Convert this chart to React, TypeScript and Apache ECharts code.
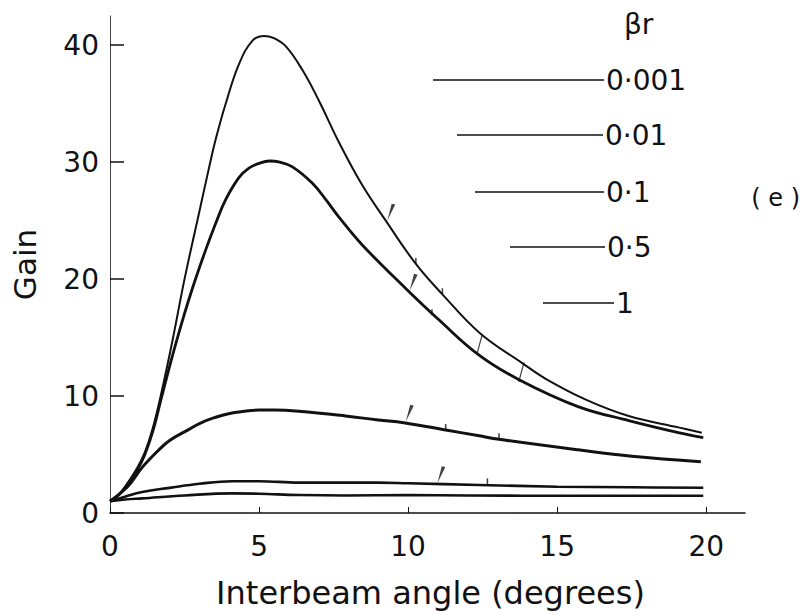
import React, { useEffect, useRef } from 'react';
import * as echarts from 'echarts';

// βr values for each curve (legend labels)
const betaR = ['0·001', '0·01', '0·1', '0·5', '1'];

// Gain vs interbeam angle (degrees)
const gain0001: [number, number][] = [
  [0, 1.0], [0.3, 1.6], [0.6, 2.6], [0.9, 3.8], [1.17, 5.2], [1.45, 7.4], [1.7, 10.0],
  [2.1, 14.8], [2.5, 20.0], [3.0, 25.8], [3.32, 29.5], [3.55, 32.0], [3.88, 35.0],
  [4.33, 38.4], [4.78, 40.4], [5.17, 40.8], [5.5, 40.6], [5.9, 39.9], [6.45, 37.9],
  [7.0, 35.3], [7.7, 31.6], [8.47, 28.0], [9.25, 25.0], [10.26, 21.3], [11.15, 18.7],
  [12.4, 15.4], [13.84, 12.8], [14.6, 11.5], [15.96, 9.7], [17.4, 8.3], [19.1, 7.3],
  [19.85, 6.86],
];
const gain001: [number, number][] = [
  [0, 1.0], [0.3, 1.55], [0.6, 2.5], [0.9, 3.6], [1.17, 5.0], [1.45, 7.1], [1.7, 9.6],
  [2.1, 13.5], [2.4, 16.2], [2.65, 18.3], [2.88, 20.1], [3.21, 22.5], [3.55, 24.8],
  [3.88, 26.8], [4.33, 28.7], [4.66, 29.5], [5.0, 29.9], [5.34, 30.1], [5.7, 30.0],
  [6.12, 29.6], [6.79, 28.2], [7.24, 26.8], [7.68, 25.3], [8.47, 22.9], [9.92, 19.2],
  [11.04, 16.5], [12.38, 13.5], [13.72, 11.4], [15.7, 9.1], [17.4, 7.9],
  [19.1, 6.85], [19.9, 6.45],
];
const gain01: [number, number][] = [
  [0, 1.0], [0.3, 1.6], [0.64, 2.4], [1.08, 3.9], [1.64, 5.4], [2.0, 6.2], [2.65, 7.15],
  [3.0, 7.65], [3.5, 8.15], [4.1, 8.55], [5.0, 8.8], [5.5, 8.8], [6.34, 8.7], [7.9, 8.3],
  [9.0, 7.95], [9.85, 7.72], [11.26, 7.1], [12.38, 6.6], [13.05, 6.3], [15.7, 5.4],
  [17.5, 4.85], [19.82, 4.38],
];
const gain05: [number, number][] = [
  [0, 1.0], [0.5, 1.4], [1.08, 1.8], [2.0, 2.15], [3.0, 2.5], [4.1, 2.72],
  [5.0, 2.72], [6.34, 2.6], [7.9, 2.6], [9.0, 2.6], [10, 2.54], [12.38, 2.4], [15, 2.25],
  [17.5, 2.2], [19.9, 2.16],
];
const gain1: [number, number][] = [
  [0, 1.0], [0.5, 1.15], [1.08, 1.25], [2.5, 1.5], [4.1, 1.68], [5.0, 1.65], [6.34, 1.54],
  [7.9, 1.5], [10, 1.54], [12, 1.5], [15.7, 1.47], [19.9, 1.47],
];

// hand-drawn marks on the curves
const boldSlashes: [number, number][] = [[9.3, 25.0], [10.05, 19.0], [9.92, 7.8], [10.98, 2.55]];
const smallTicks: [number, number][] = [[10.26, 21.3], [11.15, 18.7], [10.8, 16.9], [11.26, 7.1], [13.05, 6.3], [12.66, 2.45]];
const connectorTicks: [number, number][] = [[12.4, 14.45], [13.8, 12.05]];

const xTicks = [0, 5, 10, 15, 20];
const yTicks = [0, 10, 20, 30, 40];

const FONT = "'DejaVu Sans', sans-serif";
const INK = '#111';

export default function App() {
  const ref = useRef<HTMLDivElement>(null);
  useEffect(() => {
    if (!ref.current) return;
    const chart = echarts.init(ref.current, undefined, { renderer: 'svg' });
    const curves = [gain0001, gain001, gain01, gain05, gain1];
    const widths = [2, 2.8, 3, 2.6, 2.6];

    const legendRows = [
      { x1: 433, x2: 604, y: 80 },
      { x1: 457, x2: 603, y: 135 },
      { x1: 475, x2: 604, y: 192 },
      { x1: 510, x2: 605, y: 247 },
      { x1: 543, x2: 614, y: 303 },
    ];
    const graphics: any[] = [
      { type: 'text', left: 624, top: 10, style: { text: 'βr', font: `28px ${FONT}`, fill: INK } },
      { type: 'text', right: 6, top: 186, style: { text: '( e )', font: `24px ${FONT}`, fill: INK } },
    ];
    legendRows.forEach((r, i) => {
      graphics.push({
        type: 'line',
        shape: { x1: r.x1, y1: r.y, x2: r.x2, y2: r.y },
        style: { stroke: INK, lineWidth: 1.5 },
      });
      graphics.push({
        type: 'text',
        x: r.x2 + 2,
        y: r.y,
        style: { text: betaR[i], font: `28px ${FONT}`, fill: INK, verticalAlign: 'middle', align: 'left' },
      });
    });

    chart.setOption({
      animation: false,
      backgroundColor: '#fff',
      grid: { left: 110, right: 61, top: 16, bottom: 102, containLabel: false },
      xAxis: {
        type: 'value',
        min: 0,
        max: 21.3,
        name: 'Interbeam angle (degrees)',
        nameLocation: 'middle',
        nameGap: 64,
        nameTextStyle: { fontFamily: FONT, fontSize: 32, color: INK, padding: [0, 0, 0, 6] },
        axisLine: { show: true, onZero: false, lineStyle: { color: INK, width: 1.5 } },
        axisTick: { show: true, inside: true, length: 6, customValues: xTicks, lineStyle: { color: INK, width: 1 } },
        axisLabel: { customValues: xTicks, fontFamily: FONT, fontSize: 28, color: INK, margin: 19 },
        splitLine: { show: false },
      },
      yAxis: {
        type: 'value',
        min: 0,
        max: 42.5,
        name: 'Gain',
        nameLocation: 'middle',
        nameGap: 70,
        nameRotate: 90,
        nameTextStyle: { fontFamily: FONT, fontSize: 31, color: INK, padding: [0, 0, 0, 0] },
        axisLine: { show: true, lineStyle: { color: '#444', width: 1 } },
        axisTick: { show: true, inside: true, length: 14, customValues: yTicks, lineStyle: { color: INK, width: 1.5 } },
        axisLabel: { customValues: yTicks, fontFamily: FONT, fontSize: 28, color: INK, margin: 11 },
        splitLine: { show: false },
      },
      series: [
        ...curves.map((d, i) => ({
          type: 'line',
          name: betaR[i],
          data: d,
          smooth: 0.4,
          showSymbol: false,
          symbol: 'none',
          lineStyle: { color: INK, width: widths[i] },
          z: 3,
        })),
        {
          type: 'scatter',
          name: 'slashes',
          data: boldSlashes,
          symbol: 'path://M0 18 L5 0 L9 1 Z',
          symbolSize: [8, 17],
          symbolOffset: [4, -8.5],
          itemStyle: { color: INK },
          z: 4,
        },
        {
          type: 'scatter',
          name: 'ticks',
          data: smallTicks,
          symbol: 'rect',
          symbolSize: [1.5, 6],
          symbolOffset: [0, -3],
          itemStyle: { color: INK },
          z: 4,
        },
        {
          type: 'scatter',
          name: 'connectors',
          data: connectorTicks,
          symbol: 'rect',
          symbolSize: [1.2, 20],
          symbolRotate: -15,
          itemStyle: { color: INK },
          z: 4,
        },
      ],
      graphic: graphics,
    });
    return () => chart.dispose();
  }, []);
  return <div ref={ref} style={{ width: 806, height: 615, position: 'absolute', left: 0, top: 0 }} />;
}
